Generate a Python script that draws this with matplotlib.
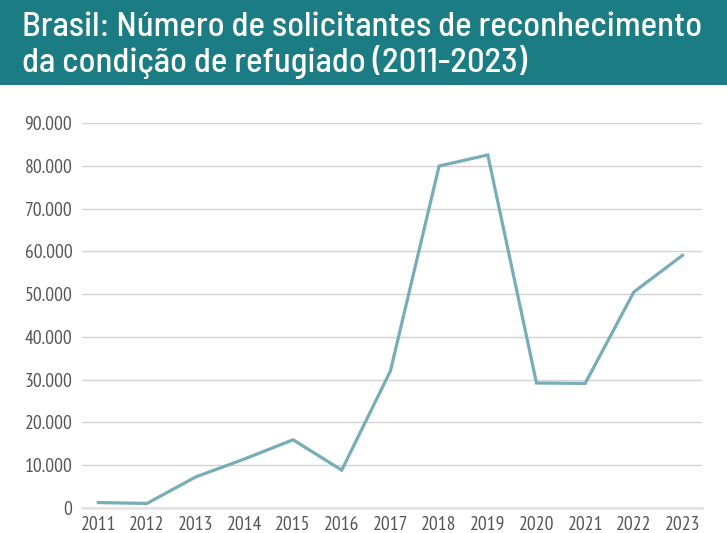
import matplotlib
matplotlib.use("Agg")
import matplotlib.pyplot as plt
from matplotlib import font_manager
from matplotlib.ticker import FuncFormatter, MultipleLocator

years = [2011, 2012, 2013, 2014, 2015, 2016, 2017, 2018, 2019, 2020, 2021, 2022, 2023]
solicitantes = [1200, 1000, 7200, 11400, 15900, 8800, 32000, 80000, 82600, 29200, 29100, 50500, 59100]
title_lines = ["Brasil: Número de solicitantes de reconhecimento",
               "da condição de refugiado (2011-2023)"]

avail = {f.name for f in font_manager.fontManager.ttflist}


def pick(cands, default="DejaVu Sans"):
    for c in cands:
        if c in avail:
            return c
    return default


title_font = pick(["Barlow Semi Condensed", "Saira Semi Condensed", "Roboto Condensed",
                   "IBM Plex Sans Condensed", "Open Sans Condensed"])
tick_font = pick(["PT Sans Narrow", "Roboto Condensed", "Open Sans Condensed",
                  "IBM Plex Sans Condensed", "Barlow Semi Condensed"])

BANNER = "#1b7c83"
LINE = "#76adb6"
GRID = "#d2d2d2"
TICK = "#555555"

W, H = 727, 533
fig = plt.figure(figsize=(W / 100, H / 100), dpi=100)
fig.patch.set_facecolor("white")

banner = fig.add_axes([0, 1 - 85 / H, 1, 85 / H])
banner.set_facecolor(BANNER)
banner.set_xticks([]); banner.set_yticks([])
for s in banner.spines.values():
    s.set_visible(False)
t1 = banner.text(22 / W, 0.58, title_lines[0], transform=banner.transAxes, color="white",
                 fontsize=22, va="baseline", ha="left", fontweight="medium",
                 family=[title_font, "DejaVu Sans"])
t2 = banner.text(22 / W, 0.155, title_lines[1], transform=banner.transAxes, color="white",
                 fontsize=22, va="baseline", ha="left", fontweight="medium",
                 family=[title_font, "DejaVu Sans"])

ax = fig.add_axes([82 / W, (H - 507.7) / H, (702 - 82) / W, (507.7 - 123.3) / H])
ax.plot(years, solicitantes, color=LINE, linewidth=2.3, solid_joinstyle="miter", clip_on=False)
ax.set_xlim(2011 - 0.335, 2023 + 0.40)
ax.set_ylim(0, 90000)
ax.yaxis.set_major_locator(MultipleLocator(10000))
ax.yaxis.set_major_formatter(FuncFormatter(lambda v, p: f"{int(v):,}".replace(",", ".")))
ax.set_xticks(years)
ax.set_xticklabels([str(y) for y in years])
ax.grid(axis="y", color=GRID, linewidth=1.0)
ax.set_axisbelow(True)
for s in ["top", "right", "left"]:
    ax.spines[s].set_visible(False)
ax.spines["bottom"].set_color("#e2e2e2")
ax.spines["bottom"].set_linewidth(1.8)
ax.tick_params(axis="both", length=0, colors=TICK, labelsize=14)
ax.tick_params(axis="y", pad=7)
ax.tick_params(axis="x", pad=6)
for lab in ax.get_xticklabels() + ax.get_yticklabels():
    lab.set_family([tick_font, "DejaVu Sans"])
    lab.set_fontweight("light")

# fit title width to reference (~680 px)
r = fig.canvas.get_renderer()
w1 = t1.get_window_extent(r).width
fs = 22 * 680 / w1
t1.set_fontsize(fs); t2.set_fontsize(fs)

fig.savefig("out.png", dpi=100, facecolor="white")
